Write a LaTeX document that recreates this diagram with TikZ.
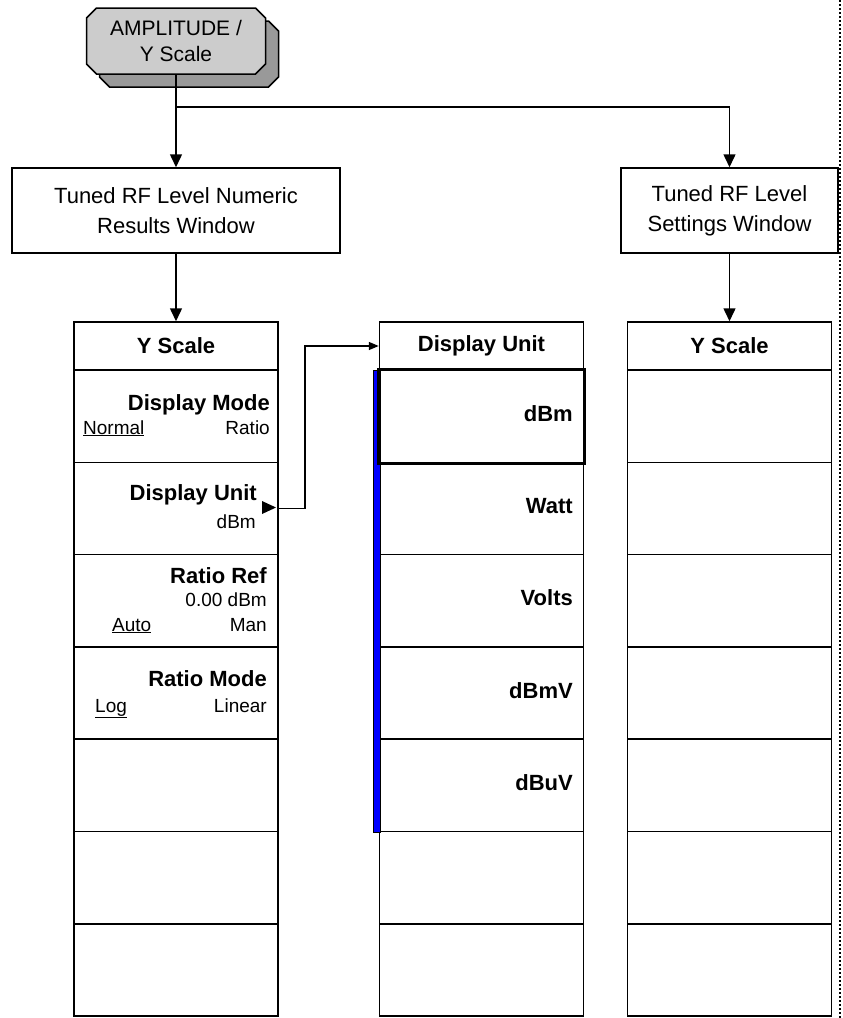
\documentclass[tikz,border=0pt]{standalone}
\usepackage{fontspec}
\setmainfont{Liberation Sans}
\usetikzlibrary{arrows.meta,shapes.misc,shadows}
\definecolor{keyface}{HTML}{CCCCCC}
\definecolor{keyshadow}{HTML}{999999}
\definecolor{selblue}{HTML}{0000FF}
\tikzset{
  hardkey/.style={chamfered rectangle,chamfered rectangle xsep=5pt,chamfered rectangle ysep=5pt,
    draw,line width=1.5pt,fill=keyface,minimum width=179pt,minimum height=66pt,inner sep=0pt,
    align=center,font=\fontsize{21}{26}\selectfont,
    drop shadow={shadow xshift=13pt,shadow yshift=-13pt,fill=keyshadow,draw=black,opacity=1}},
  winbox/.style={draw,line width=1.5pt,minimum height=85pt,inner sep=0pt,align=center,
    font=\fontsize{22}{30}\selectfont},
  menuhead/.style={draw,line width=1.5pt,minimum width=204pt,minimum height=48pt,inner sep=0pt,
    font=\bfseries\fontsize{22}{26}\selectfont},
  softkey/.style={draw,line width=1.5pt,minimum width=204pt,minimum height=92.3pt,inner sep=0pt},
  keytitle/.style={inner sep=0pt,anchor=base east,font=\bfseries\fontsize{22}{26}\selectfont},
  keyvalue/.style={inner sep=0pt,font=\fontsize{19}{22}\selectfont},
  unitlabel/.style={inner sep=0pt,anchor=base east,font=\bfseries\fontsize{22}{26}\selectfont},
  link/.style={line width=1.5pt,-{Triangle[length=13pt,width=12pt]}},
  sublink/.style={line width=1.5pt,-{Triangle[length=10pt,width=8pt]}},
  pagerule/.style={line width=1.5pt,dash pattern=on 1.5pt off 2.5pt}
}

\begin{document}
\begin{tikzpicture}[x=1pt,y=-1pt]
  \useasboundingbox (0,0) rectangle (843,1018);
  \draw[pagerule] (840,0) -- (840,1018);
  % hard key and the two windows
  \node[hardkey] (ampkey) at (176,41) {AMPLITUDE /\\Y Scale};
  \node[winbox,minimum width=328pt] (numwin) at (176,210.5) {Tuned RF Level Numeric\\Results Window};
  \node[winbox,minimum width=217pt] (setwin) at (729.5,210.5) {Tuned RF Level\\Settings Window};
  \coordinate (fork) at (176,107);
  \draw[link] (ampkey.south) -- (numwin.north);
  \draw[link] (fork) -| (setwin.north);
  % menu columns
  \node[menuhead] (lhead) at (176,346) {Y Scale};
  \node[menuhead] (mhead) at (481.5,346) {Display Unit};
  \node[menuhead] (rhead) at (729.5,346) {Y Scale};
  \foreach \i in {1,...,7}{
    \pgfmathsetmacro{\yy}{370+92.3*(\i-0.5)}
    \node[softkey] (lkey\i) at (176,\yy) {};
    \node[softkey] (mkey\i) at (481.5,\yy) {};
    \node[softkey] (rkey\i) at (729.5,\yy) {};
  }
  \draw[link] (numwin.south) -- (lhead.north);
  \draw[link] (setwin.south) -- (rhead.north);
  % Y Scale softkeys
  \node[keytitle] (dmode) at (270,410) {Display Mode};
  \node[keyvalue,anchor=base west] (dnormal) at (83,434) {\underline{Normal}};
  \node[keyvalue,anchor=base east] (dratio) at (270,434) {Ratio};
  \node[keytitle] (dunit) at (257,500) {Display Unit};
  \node[keyvalue,anchor=base east] (dunitval) at (256,528) {dBm};
  \node[keytitle] (rref) at (267,583) {Ratio Ref};
  \node[keyvalue,anchor=base east] (rrefval) at (267,606) {0.00 dBm};
  \node[keyvalue,anchor=base west] (rauto) at (112,631) {\underline{Auto}};
  \node[keyvalue,anchor=base east] (rman) at (267,631) {Man};
  \node[keytitle] (rmode) at (267,686) {Ratio Mode};
  \node[keyvalue,anchor=base west] (rlog) at (95,712) {\underline{Log}};
  \node[keyvalue,anchor=base east] (rlin) at (267,712) {Linear};
  \fill (262,501) -- (276,507.5) -- (262,514) -- cycle;
  \draw[sublink] (lkey2.east) -- ++(26,0) |- (mhead.west);
  % Display Unit choices
  \filldraw[fill=selblue,draw=black,line width=1pt] (373,370) rectangle (380,832);
  \draw[line width=3pt] (mkey1.north west) rectangle (mkey1.south east);
  \foreach \u [count=\i] in {dBm,Watt,Volts,dBmV,dBuV}{
    \pgfmathsetmacro{\yy}{370+92.3*(\i-0.5)+5}
    \node[unitlabel] (unit\i) at (573,\yy) {\u};
  }
\end{tikzpicture}
\end{document}
